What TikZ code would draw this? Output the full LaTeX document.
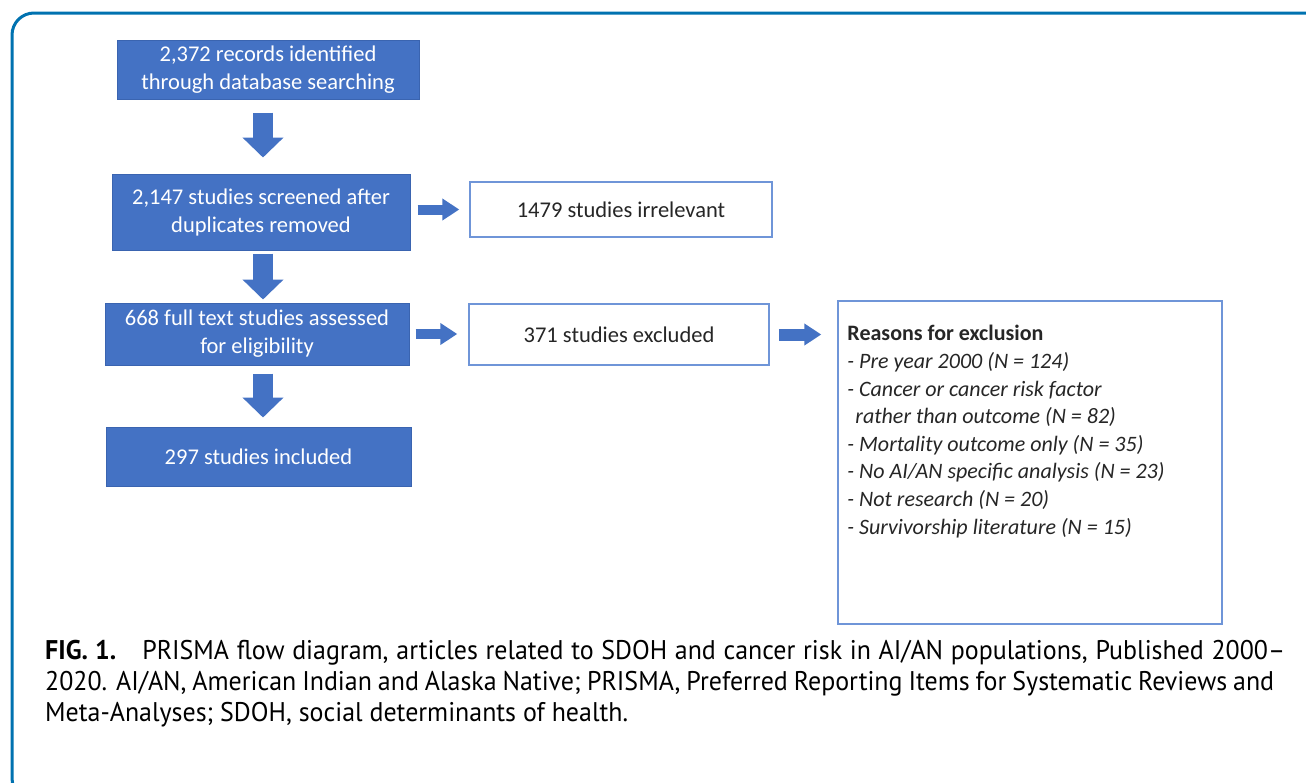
\documentclass[tikz,border=0pt]{standalone}
\usepackage{fontspec}
\setmainfont{Carlito}
\newfontfamily\capfont{PT Sans}[FakeStretch=0.96]
\usetikzlibrary{arrows.meta}
\definecolor{boxblue}{HTML}{4472C4}
\definecolor{boxedge}{HTML}{3A64B0}
\definecolor{lightedge}{HTML}{6F95D8}
\definecolor{framec}{HTML}{0072B0}
\definecolor{txtgray}{HTML}{262626}
\tikzset{
  bluebox/.style={draw=boxedge, line width=1pt, fill=boxblue, text=white, align=center,
    font=\fontsize{22.5}{28}\selectfont, inner sep=0pt},
  whitebox/.style={draw=lightedge, line width=1.5pt, fill=white, text=txtgray, align=center,
    font=\fontsize{22.5}{28}\selectfont, inner sep=0pt},
  varrow/.style={draw=boxblue, line width=20pt, -{Triangle[width=40pt,length=20pt]}},
  harrow/.style={draw=boxblue, line width=10pt, -{Triangle[width=21pt,length=17pt]}},
  frame/.style={draw=framec, line width=3pt, rounded corners=22pt},
}
\begin{document}
\begin{tikzpicture}[x=1pt,y=-1pt]
\useasboundingbox (0,0) rectangle (1306,782);
\clip (0,0) rectangle (1306,782);
\fill[white] (0,0) rectangle (1306,782);
\draw[frame] (12,13) rectangle (1345,800);

\node[bluebox, minimum width=302pt, minimum height=59pt] (b1) at (268,69.5)
  {2,372 records identified\\through database searching};
\node[bluebox, minimum width=298pt, minimum height=76pt] (b2) at (261,212)
  {2,147 studies screened after\\duplicates removed};
\node[bluebox, minimum width=304pt, minimum height=62pt] (b3) at (257,334)
  {668 full text studies assessed\\for eligibility};
\node[bluebox, minimum width=305pt, minimum height=59pt] (b4) at (258.5,456.5)
  {297 studies included};

\node[whitebox, minimum width=302pt, minimum height=55pt] (irr) at (621,209.5)
  {1479 studies irrelevant};
\node[whitebox, minimum width=300pt, minimum height=61pt] (excl) at (619,334.5)
  {371 studies excluded};
\node[whitebox, minimum width=384pt, minimum height=323pt] (reasons) at (1030,462.5) {};
\node[anchor=north west, align=left, text=txtgray, inner sep=0pt,
  font=\fontsize{22}{27.6}\selectfont] (rtext) at ([xshift=10pt,yshift=-25pt]reasons.north west)
  {\textbf{Reasons for exclusion}\\
   \textit{- Pre year 2000 (N = 124)}\\
   \textit{- Cancer or cancer risk factor}\\
   \textit{\hspace*{8pt}rather than outcome (N = 82)}\\
   \textit{- Mortality outcome only (N = 35)}\\
   \textit{- No AI/AN specific analysis (N = 23)}\\
   \textit{- Not research (N = 20)}\\
   \textit{- Survivorship literature (N = 15)}};

\coordinate (ax) at (263,0);
\draw[varrow, shorten <=13pt, shorten >=16pt] (b1.south -| ax) -- (b2.north -| ax);
\draw[varrow, shorten <=3pt, shorten >=3pt] (b2.south -| ax) -- (b3.north -| ax);
\draw[varrow, shorten <=8pt, shorten >=9pt] (b3.south -| ax) -- (b4.north -| ax);

\draw[harrow, shorten <=7pt, shorten >=10pt] (b2.east |- irr) -- (irr.west);
\draw[harrow, shorten <=6pt, shorten >=11pt] (b3.east) -- (b3.east -| excl.west);
\draw[harrow, line width=12pt, shorten <=9pt, shorten >=16pt] (excl.east) -- (excl.east -| reasons.west);

\node[anchor=west, align=left, inner sep=0pt, text=black,
  font=\capfont\fontsize{27}{31}\selectfont] (cap) at (45,684)
  {\makebox[1240pt][s]{\textbf{FIG. 1.}\hspace*{26pt}PRISMA flow diagram, articles related to SDOH and cancer risk in AI/AN populations, Published 2000–}\\
   \makebox[1229pt][s]{2020. AI/AN, American Indian and Alaska Native; PRISMA, Preferred Reporting Items for Systematic Reviews and}\\
   Meta-Analyses; SDOH, social determinants of health.};
\end{tikzpicture}
\end{document}
